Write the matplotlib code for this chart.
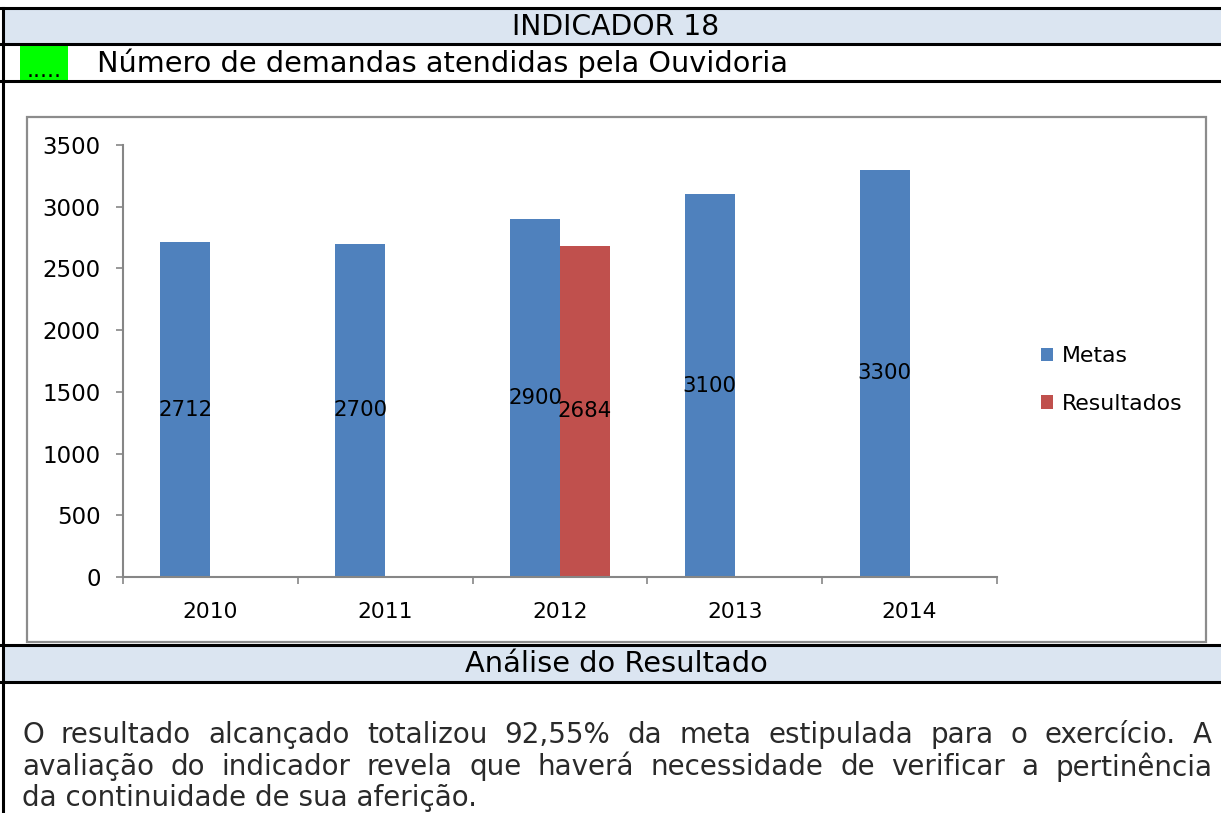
import matplotlib.pyplot as plt
from matplotlib.patches import Rectangle
from matplotlib.lines import Line2D

anos = ["2010", "2011", "2012", "2013", "2014"]
metas = [2712, 2700, 2900, 3100, 3300]
resultados = [None, None, 2684, None, None]
yticks = [0, 500, 1000, 1500, 2000, 2500, 3000, 3500]

titulo = "INDICADOR 18"
indicador = "Número de demandas atendidas pela Ouvidoria"
secao = "Análise do Resultado"
analise = [
	"O resultado alcançado totalizou 92,55% da meta estipulada para o exercício. A",
	"avaliação do indicador revela que haverá necessidade de verificar a pertinência",
	"da continuidade de sua aferição.",
]

W, H = 1221, 813
azul = "#4f81bd"
vermelho = "#c0504d"
faixa = "#dbe5f1"

fig = plt.figure(figsize=(W / 100, H / 100), dpi=100)

def fx(x):
	return x / W

def fy(y):
	return 1 - y / H

def hline(y, x0=0, x1=W, lw=2.2, color="black"):
	fig.add_artist(Line2D([fx(x0), fx(x1)], [fy(y), fy(y)], color=color, lw=lw, transform=fig.transFigure))

def vline(x, y0, y1, lw=2.2, color="black"):
	fig.add_artist(Line2D([fx(x), fx(x)], [fy(y0), fy(y1)], color=color, lw=lw, transform=fig.transFigure))

def box(x0, y0, x1, y1, color, ec="none", lw=0):
	fig.add_artist(Rectangle((fx(x0), fy(y1)), fx(x1) - fx(x0), fy(y0) - fy(y1),
		facecolor=color, edgecolor=ec, lw=lw, transform=fig.transFigure))

# table background and borders
box(3, 9, W, 44, faixa)
box(3, 646, W, 682, faixa)
box(20, 46, 68, 80, "#00ff00")
hline(8)
hline(44)
hline(81)
hline(645)
hline(682)
vline(3, 8, H)

# chart frame
box(27, 117, 1206, 642, "none", ec="#8c8c8c", lw=1.6)

fig.text(fx(616), fy(27), titulo, ha="center", va="center", fontsize=20.3)
fig.text(fx(44), fy(71), ".....", ha="center", va="center", fontsize=16)
fig.text(fx(97), fy(63), indicador, ha="left", va="center", fontsize=20.7)
fig.text(fx(616), fy(664), secao, ha="center", va="center", fontsize=20.8)

# chart
ax = fig.add_axes([fx(123), fy(577), fx(997) - fx(123), fy(145) - fy(577)])
w = 0.286
x = list(range(len(anos)))
ax.bar([i - w / 2 for i in x], metas, width=w, color=azul, label="Metas")
rx = [i + w / 2 for i, v in zip(x, resultados) if v is not None]
rv = [v for v in resultados if v is not None]
ax.bar(rx, rv, width=w, color=vermelho, label="Resultados")
for i, v in zip(x, metas):
	ax.text(i - w / 2, v / 2, str(v), ha="center", va="center", fontsize=15.3)
for i, v in zip(rx, rv):
	ax.text(i, v / 2, str(v), ha="center", va="center", fontsize=15.3)

ax.set_xlim(-0.5, len(anos) - 0.5)
ax.set_ylim(0, 3500)
ax.set_yticks(yticks)
ax.set_xticks(x)
ax.set_xticklabels(anos)
ax.set_xticks([i - 0.5 for i in range(len(anos) + 1)], minor=True)
ax.tick_params(axis="x", which="major", length=0, pad=18, labelsize=15.7)
ax.tick_params(axis="x", which="minor", length=5, color="#868686", width=1.2)
ax.tick_params(axis="y", length=5, color="#868686", width=1.2, pad=11, labelsize=16.5)
for s in ["top", "right"]:
	ax.spines[s].set_visible(False)
for s in ["left", "bottom"]:
	ax.spines[s].set_color("#868686")
	ax.spines[s].set_linewidth(1.5)

ax.legend(loc="center left", bbox_to_anchor=(fx(1041), fy(380)), bbox_transform=fig.transFigure,
	frameon=False, fontsize=15.8, handlelength=0.55, handleheight=0.55, handletextpad=0.4,
	labelspacing=1.25, borderpad=0, borderaxespad=0)

# analysis text, first lines justified
renderer = fig.canvas.get_renderer()
ys = [735, 767, 798]
x0, x1 = 22, 1212
tam = 20
cor = "#2a2a2a"
for k, (linha, yy) in enumerate(zip(analise, ys)):
	if k == len(analise) - 1:
		fig.text(fx(x0), fy(yy), linha, ha="left", va="center", fontsize=tam, color=cor)
		continue
	palavras = linha.split(" ")
	objs = [fig.text(0, fy(yy), p, ha="left", va="center", fontsize=tam, color=cor) for p in palavras]
	larg = [o.get_window_extent(renderer).width for o in objs]
	gap = (x1 - x0 - sum(larg)) / (len(palavras) - 1)
	pos = x0
	for o, l in zip(objs, larg):
		o.set_x(fx(pos))
		pos += l + gap

fig.savefig("out.png", dpi=100)
